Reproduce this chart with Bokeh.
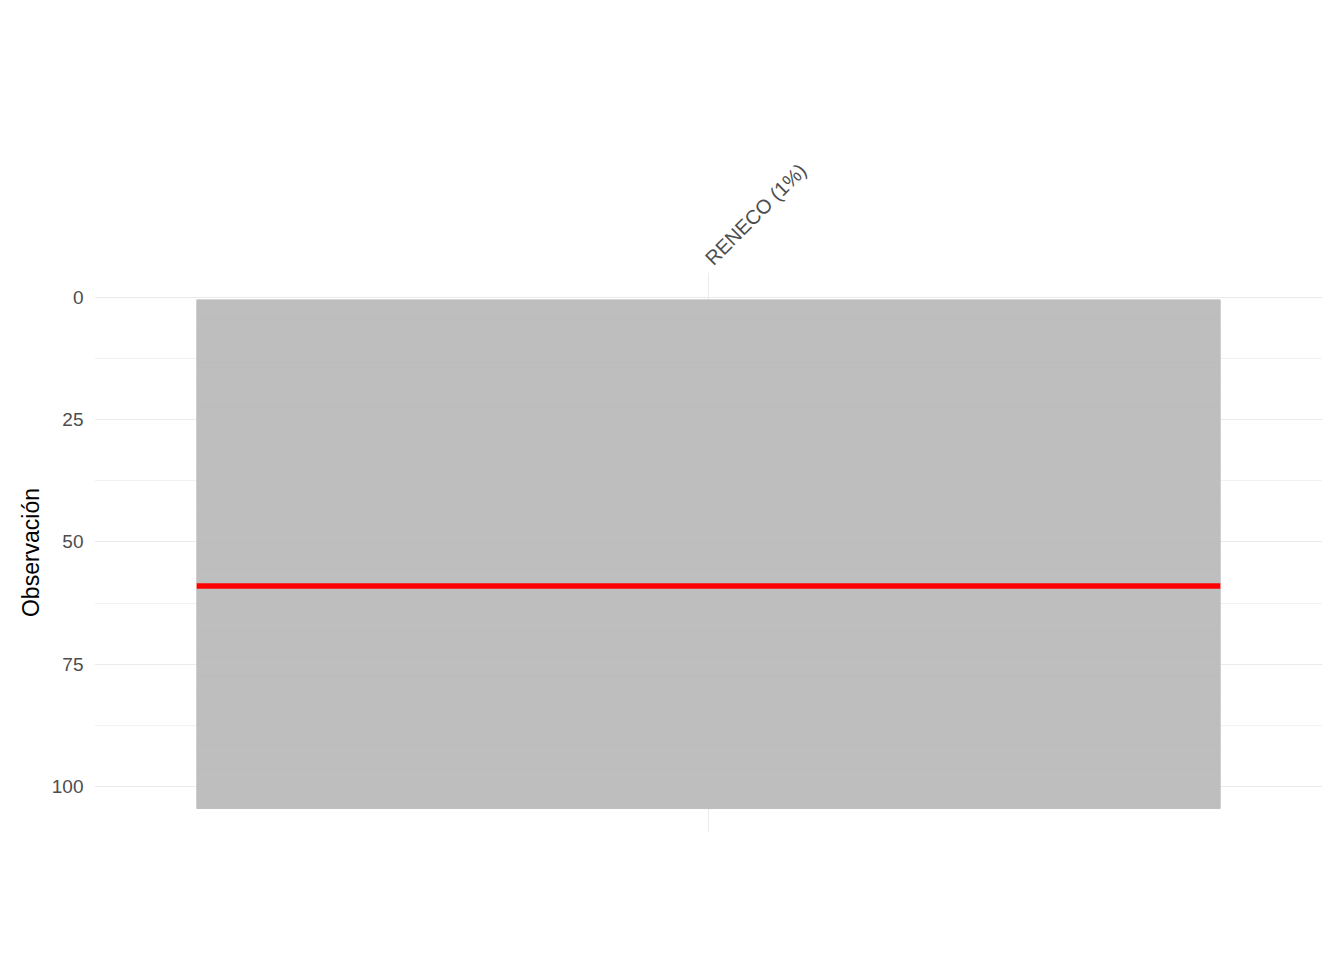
import numpy as np
from bokeh.plotting import figure
from bokeh.models import Legend, LinearAxis, FixedTicker, Label, Range1d
from bokeh.embed import file_html
from bokeh.resources import INLINE

# data
variables = ["RENECO (1%)"]
n_obs = 104
na_rows = [59]

p = figure(frame_width=1228, frame_height=560, output_backend="svg", toolbar_location=None,
           x_range=Range1d(-0.6, 0.6), y_range=Range1d(109.4, -5.1),
           x_axis_location=None, min_border_left=94, min_border_right=6,
           min_border_top=272, min_border_bottom=104)
p.outline_line_color = None

rows = np.arange(1, n_obs + 1)
present = [r for r in rows if r not in na_rows]
g = p.rect(x=[0] * len(present), y=present, width=1, height=1,
           fill_color="#BEBEBE", line_color="#BEBEBE", line_width=1)
r = p.rect(x=[0] * len(na_rows), y=na_rows, width=1, height=1,
           fill_color="#FF0000", line_color="#FF0000", line_width=0.5)

top = LinearAxis(ticker=FixedTicker(ticks=list(range(len(variables)))),
                 major_label_overrides={i: v for i, v in enumerate(variables)},
                 major_label_orientation=np.pi / 4)
top.axis_line_color = None
top.major_tick_line_color = None
top.minor_tick_line_color = None
top.major_label_text_font = "Liberation Sans"
top.major_label_text_font_size = "20px"
top.major_label_text_color = "#4D4D4D"
p.add_layout(top, "above")

p.xgrid.ticker = FixedTicker(ticks=[0])
p.xgrid.grid_line_color = "#EBEBEB"
p.ygrid.ticker = FixedTicker(ticks=[0, 25, 50, 75, 100],
                             minor_ticks=[12.5, 37.5, 62.5, 87.5])
p.ygrid.grid_line_color = "#EBEBEB"
p.ygrid.minor_grid_line_color = "#F2F2F2"

ya = p.yaxis[0]
ya.ticker = FixedTicker(ticks=[0, 25, 50, 75, 100])
ya.axis_line_color = None
ya.major_tick_line_color = None
ya.minor_tick_line_color = None
ya.major_label_text_font = "Liberation Sans"
ya.major_label_text_font_size = "19px"
ya.major_label_text_color = "#4D4D4D"
ya.axis_label = "Observación"
ya.axis_label_text_font = "Liberation Sans"
ya.axis_label_text_font_size = "23px"
ya.axis_label_text_font_style = "normal"
ya.axis_label_text_color = "black"

legend = Legend(items=[("NA", [r]), ("Presente", [g])], orientation="horizontal",
                location="center", glyph_width=46, glyph_height=46,
                label_text_font="Liberation Sans", label_text_font_size="21px",
                spacing=14, border_line_color=None, padding=4, margin=40)
p.add_layout(legend, "below")

p.add_layout(Label(x=1, y=810, x_units="screen", y_units="screen",
                   text="Rentabilidad Económica: valores ausentes",
                   text_font="Liberation Sans", text_font_style="bold",
                   text_font_size="35px", text_baseline="middle"))
p.add_layout(Label(x=1, y=764, x_units="screen", y_units="screen",
                   text="Transporte de mercancías interestelar",
                   text_font="Liberation Sans", text_font_size="27px",
                   text_baseline="middle"))

open("out.html", "w").write(file_html(p, INLINE))
